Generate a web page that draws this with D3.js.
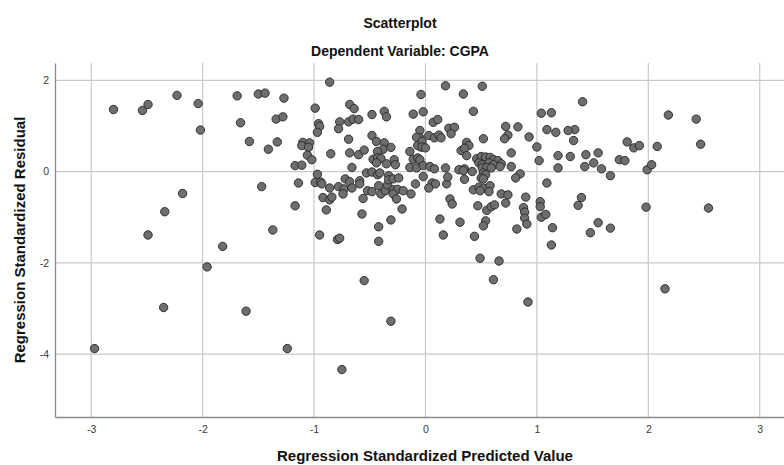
<!DOCTYPE html>
<html>
<head>
<meta charset="utf-8">
<script src="https://cdn.jsdelivr.net/npm/d3@7"></script>
<style>
  body { margin: 0; background: #fff; }
  svg { font-family: "Liberation Sans", Arial, sans-serif; }
</style>
</head>
<body>
<svg></svg>
<script>
// [standardized predicted value, standardized residual]
var sparseLeft = [[-2.80,1.36],[-2.54,1.34],[-2.49,1.47],[-2.23,1.67],[-2.04,1.49],[-2.02,0.91],[-1.69,1.66],[-1.66,1.07],[-1.58,0.66],[-1.50,1.70],[-1.44,1.72],[-1.41,0.49],[-1.34,1.15],[-1.33,0.65],[-1.47,-0.33],[-2.18,-0.48],[-2.34,-0.88],[-1.37,-1.28],[-2.49,-1.39],[-1.82,-1.64],[-1.96,-2.09],[-2.35,-2.98],[-1.61,-3.06],[-2.97,-3.88],[-1.24,-3.88]];
var lowOutliers = [[-0.75,-4.34],[-0.55,-2.39],[-0.31,-3.28],[0.61,-2.37],[0.92,-2.86],[2.15,-2.57],[1.48,-1.34]];
var upperLeft = [[-1.27,1.61],[-1.28,1.20],[-0.86,1.96],[-0.99,1.39],[-0.96,1.05],[-0.95,0.99],[-0.97,0.86],[-0.68,1.47],[-0.64,1.38],[-0.77,1.09],[-0.69,1.09],[-0.65,1.15],[-0.60,1.14],[-0.78,0.94],[-0.48,1.25],[-0.37,1.32],[-0.35,1.20],[-0.11,1.26],[-0.05,0.90],[-1.10,0.64],[-1.04,0.63],[-1.11,0.57],[-1.05,0.53],[-1.06,0.36],[-1.02,0.26],[-1.17,0.13],[-1.11,0.14],[-0.85,0.39],[-0.69,0.71],[-0.68,0.41],[-0.60,0.37],[-0.55,0.47],[-0.48,0.79],[-0.44,0.66],[-0.37,0.63],[-0.38,0.49],[-0.31,0.53],[-0.43,0.44],[-0.47,0.27],[-0.43,0.30],[-0.40,0.29],[-0.44,0.19],[-0.35,0.17],[-0.28,0.26],[-0.27,0.15],[-0.14,0.44],[-0.11,0.27],[-0.07,0.30],[-0.05,0.74],[-0.08,0.75],[-0.04,0.54],[-0.07,0.57]];
var lowerLeft = [[-0.66,0.09],[-1.14,-0.25],[-1.17,-0.75],[-0.97,-0.06],[-0.99,-0.24],[-0.94,-0.23],[-0.93,-0.27],[-0.86,-0.36],[-0.92,-0.57],[-0.86,-0.62],[-0.84,-0.56],[-0.89,-0.84],[-0.78,-0.33],[-0.72,-0.16],[-0.68,-0.22],[-0.73,-0.38],[-0.74,-0.49],[-0.66,-0.36],[-0.59,-0.20],[-0.59,-0.27],[-0.53,-0.03],[-0.48,-0.01],[-0.43,-0.07],[-0.41,-0.03],[-0.52,-0.42],[-0.48,-0.44],[-0.56,-0.59],[-0.57,-0.93],[-0.42,-0.31],[-0.40,-0.49],[-0.36,-0.42],[-0.34,-0.29],[-0.33,-0.09],[-0.33,-0.18],[-0.29,-0.16],[-0.24,-0.14],[-0.29,-0.40],[-0.25,-0.39],[-0.29,-0.49],[-0.26,-0.60],[-0.20,-0.42],[-0.13,-0.49],[-0.09,-0.27],[-0.21,-0.82],[-0.31,-1.06],[-0.42,-1.21],[-0.42,-1.53],[-0.95,-1.39],[-0.79,-1.49],[-0.77,-1.46],[-0.14,0.09],[-0.08,0.08]];
var upperRight = [[-0.04,1.69],[-0.02,1.31],[0.18,1.88],[0.51,1.87],[0.34,1.70],[0.43,1.32],[0.07,1.08],[0.11,1.14],[0.21,0.95],[0.26,0.97],[0.23,0.83],[0.03,0.79],[0.08,0.74],[0.12,0.80],[0.14,0.74],[-0.03,0.66],[-0.03,0.54],[0.00,0.52],[-0.05,0.26],[0.52,0.72],[0.37,0.64],[0.39,0.57],[0.32,0.46],[0.35,0.51],[0.37,0.35],[0.72,0.99],[0.83,0.98],[0.74,0.80],[0.71,0.72],[0.93,0.76],[1.00,0.54],[0.77,0.41],[1.04,1.28],[1.13,1.29],[1.09,0.92],[1.17,0.86],[1.19,0.35],[1.02,0.24],[0.46,0.28],[0.50,0.33],[0.54,0.32],[0.58,0.31],[0.61,0.26],[0.65,0.24],[0.68,0.17],[0.48,0.19],[0.51,0.15],[0.57,0.19],[0.61,0.15]];
var lowerRight = [[-0.02,0.13],[0.04,0.11],[0.08,0.06],[-0.02,-0.11],[0.18,0.08],[0.30,0.04],[0.35,0.06],[0.42,0.00],[0.34,0.02],[0.51,0.08],[0.55,0.09],[0.59,0.08],[0.52,-0.03],[0.54,-0.07],[0.50,-0.14],[0.52,-0.16],[0.67,0.11],[0.77,0.11],[0.85,-0.05],[0.81,-0.14],[1.19,0.08],[0.06,-0.25],[0.09,-0.27],[0.03,-0.36],[0.19,-0.27],[0.20,-0.12],[0.35,-0.17],[0.43,-0.40],[0.48,-0.34],[0.52,-0.36],[0.58,-0.31],[0.57,-0.44],[0.49,-0.42],[0.22,-0.60],[0.24,-0.71],[0.47,-0.75],[0.55,-0.85],[0.59,-0.77],[0.62,-0.73],[0.68,-0.49],[0.74,-0.51],[0.72,-0.69],[0.90,-0.56],[0.88,-0.79],[0.89,-0.89],[0.89,-1.02],[0.91,-1.15],[0.82,-1.26],[1.03,-0.66],[1.03,-0.77],[1.09,-0.25],[1.04,-1.00],[1.08,-0.94],[1.14,-1.23],[1.13,-1.61],[0.13,-1.04],[0.31,-1.11],[0.54,-1.08],[0.52,-1.19],[0.16,-1.39],[0.44,-1.42],[0.49,-1.90],[0.66,-1.96]];
var farRight = [[1.41,1.53],[2.18,1.24],[2.43,1.15],[2.47,0.60],[1.81,0.65],[1.87,0.52],[1.92,0.57],[2.08,0.55],[1.44,0.37],[1.55,0.41],[1.43,0.11],[1.51,0.19],[1.58,0.06],[1.66,-0.09],[1.74,0.26],[1.79,0.24],[1.99,0.04],[2.03,0.15],[1.30,0.33],[1.34,0.92],[1.28,0.90],[1.33,0.68],[1.40,-0.57],[1.37,-0.74],[1.55,-1.12],[1.66,-1.24],[1.98,-0.78],[2.54,-0.80]];

var xTicks = [-3, -2, -1, 0, 1, 2, 3];
var yTicks = [-4, -2, 0, 2];

var points = [].concat(sparseLeft, lowOutliers, upperLeft, lowerLeft, upperRight, lowerRight, farRight);

var width = 784, height = 465;
var plot = {left: 55, top: 63, bottom: 417, right: 821};

var svg = d3.select("svg")
            .attr("width", width)
            .attr("height", height);

var x = d3.scaleLinear()
          .domain([-3.325, 3.55])
          .range([plot.left, plot.right]);

var y = d3.scaleLinear()
          .domain([-5.38, 2.38])
          .range([plot.bottom, plot.top]);

// grid
svg.append("g")
   .selectAll("line")
   .data(xTicks)
   .enter()
   .append("line")
   .attr("x1", function(d){ return x(d); })
   .attr("x2", function(d){ return x(d); })
   .attr("y1", plot.top)
   .attr("y2", plot.bottom)
   .attr("stroke", "#c9c9c9")
   .attr("stroke-width", 1.2);

svg.append("g")
   .selectAll("line")
   .data(yTicks)
   .enter()
   .append("line")
   .attr("x1", plot.left)
   .attr("x2", width)
   .attr("y1", function(d){ return y(d); })
   .attr("y2", function(d){ return y(d); })
   .attr("stroke", "#c9c9c9")
   .attr("stroke-width", 1.2);

// axes
var xAxis = svg.append("g")
               .attr("transform", "translate(0," + plot.bottom + ")")
               .call(d3.axisBottom(x)
                       .tickValues(xTicks)
                       .tickFormat(function(d){ return String(d); })
                       .tickSize(0)
                       .tickPadding(9));

var yAxis = svg.append("g")
               .attr("transform", "translate(" + plot.left + ",0)")
               .call(d3.axisLeft(y)
                       .tickValues(yTicks)
                       .tickFormat(function(d){ return String(d); })
                       .tickSize(0)
                       .tickPadding(6));

[xAxis, yAxis].forEach(function(a){
  a.select(".domain").attr("stroke", "#8a8a8a").attr("stroke-width", 1.3);
  a.selectAll("text")
   .attr("fill", "#3a3a3a")
   .style("font-size", "10.5px")
   .style("font-family", "\"Liberation Sans\", Arial, sans-serif");
});

// points
svg.append("g")
   .selectAll("circle")
   .data(points)
   .enter()
   .append("circle")
   .attr("cx", function(d){ return x(d[0]); })
   .attr("cy", function(d){ return y(d[1]); })
   .attr("r", 4.2)
   .attr("fill", "#6e6e6e")
   .attr("stroke", "#262626")
   .attr("stroke-width", 0.9);

// titles
svg.append("text")
   .attr("x", 400)
   .attr("y", 27.5)
   .attr("text-anchor", "middle")
   .attr("font-weight", "bold")
   .attr("font-size", "14px")
   .attr("fill", "#111")
   .text("Scatterplot");

svg.append("text")
   .attr("x", 400)
   .attr("y", 56)
   .attr("text-anchor", "middle")
   .attr("font-weight", "bold")
   .attr("font-size", "14px")
   .attr("fill", "#111")
   .text("Dependent Variable: CGPA");

svg.append("text")
   .attr("x", 425)
   .attr("y", 461)
   .attr("text-anchor", "middle")
   .attr("font-weight", "bold")
   .attr("font-size", "15px")
   .attr("fill", "#111")
   .text("Regression Standardized Predicted Value");

svg.append("text")
   .attr("transform", "translate(25,240) rotate(-90)")
   .attr("text-anchor", "middle")
   .attr("font-weight", "bold")
   .attr("font-size", "15px")
   .attr("fill", "#111")
   .text("Regression Standardized Residual");
</script>
</body>
</html>
